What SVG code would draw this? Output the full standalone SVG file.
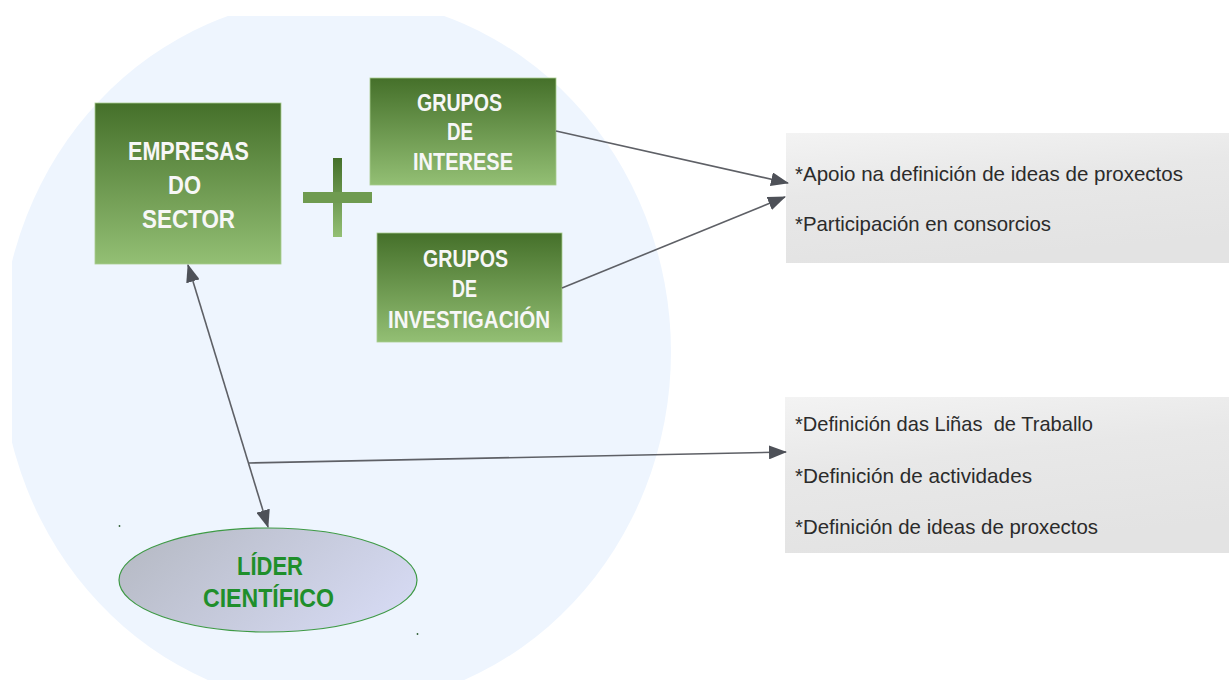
<svg xmlns="http://www.w3.org/2000/svg" width="1229" height="680" viewBox="0 0 1229 680">
<style>
.gt{font-family:"Liberation Sans",Arial,sans-serif;font-weight:bold;fill:#F7F7F7}
.lt{font-family:"Liberation Sans",Arial,sans-serif;font-weight:bold;fill:#1F8F2B;font-size:25px}
.bt{font-family:"Liberation Sans",Arial,sans-serif;fill:#2B2B2B;font-size:21px;white-space:pre}
.con{stroke:#5E6066;stroke-width:1.6;fill:none}
</style>
<defs>
<linearGradient id="grn" x1="0" y1="0" x2="0" y2="1">
<stop offset="0" stop-color="#45702A"/>
<stop offset="1" stop-color="#93BF74"/>
</linearGradient>
<linearGradient id="gry" x1="0" y1="0" x2="0.3" y2="1">
<stop offset="0" stop-color="#F3F3F3"/>
<stop offset="0.45" stop-color="#E8E8E8"/>
<stop offset="1" stop-color="#E3E3E3"/>
</linearGradient>
<linearGradient id="ell" x1="0" y1="0.3" x2="1" y2="0.7">
<stop offset="0" stop-color="#B7BBC6"/>
<stop offset="1" stop-color="#D6DAF3"/>
</linearGradient>
<clipPath id="clip"><rect x="12" y="16" width="1217" height="664"/></clipPath>
<marker id="ah" viewBox="0 0 18 14" refX="17" refY="7" markerWidth="18" markerHeight="14" markerUnits="userSpaceOnUse" orient="auto-start-reverse">
<path d="M0,0 L18,7 L0,14 z" fill="#4E5158"/>
</marker>
</defs>
<rect width="1229" height="680" fill="#FFFFFF"/>
<ellipse cx="336" cy="352" rx="335" ry="355" fill="#EEF5FE" clip-path="url(#clip)"/>

<g id="box-info-1">
<rect x="786" y="133" width="443" height="130" fill="url(#gry)"/>
<text class="bt" x="795" y="181" textLength="388" lengthAdjust="spacingAndGlyphs">*Apoio na definición de ideas de proxectos</text>
<text class="bt" x="795" y="231" textLength="256" lengthAdjust="spacingAndGlyphs">*Participación en consorcios</text>
</g>
<g id="box-info-2">
<rect x="785" y="397" width="444" height="156" fill="url(#gry)"/>
<text class="bt" x="795" y="431" textLength="298" lengthAdjust="spacingAndGlyphs">*Definición das Liñas  de Traballo</text>
<text class="bt" x="795" y="483" textLength="237" lengthAdjust="spacingAndGlyphs">*Definición de actividades</text>
<text class="bt" x="795" y="534" textLength="303" lengthAdjust="spacingAndGlyphs">*Definición de ideas de proxectos</text>
</g>

<g id="empresas">
<rect x="95" y="103" width="186" height="161" fill="url(#grn)" stroke="#A9CC90" stroke-width="0.8"/>
<text class="gt" font-size="26" x="128" y="160" textLength="121" lengthAdjust="spacingAndGlyphs">EMPRESAS</text>
<text class="gt" font-size="26" x="168" y="194" textLength="33" lengthAdjust="spacingAndGlyphs">DO</text>
<text class="gt" font-size="26" x="142" y="228" textLength="93" lengthAdjust="spacingAndGlyphs">SECTOR</text>
</g>

<g id="plus">
<rect x="333" y="158" width="9" height="79" fill="url(#grn)"/>
<rect x="303" y="192" width="69" height="11" fill="#6F9B50"/>
</g>

<g id="grupos-interese">
<rect x="370" y="78" width="186" height="107" fill="url(#grn)" stroke="#A9CC90" stroke-width="0.8"/>
<text class="gt" font-size="23" x="417" y="111" textLength="85" lengthAdjust="spacingAndGlyphs">GRUPOS</text>
<text class="gt" font-size="23" x="447" y="140" textLength="26" lengthAdjust="spacingAndGlyphs">DE</text>
<text class="gt" font-size="23" x="413" y="170" textLength="100" lengthAdjust="spacingAndGlyphs">INTERESE</text>
</g>

<g id="grupos-investigacion">
<rect x="377" y="233" width="185" height="109" fill="url(#grn)" stroke="#A9CC90" stroke-width="0.8"/>
<text class="gt" font-size="23" x="423" y="267" textLength="85" lengthAdjust="spacingAndGlyphs">GRUPOS</text>
<text class="gt" font-size="23" x="452" y="297" textLength="25" lengthAdjust="spacingAndGlyphs">DE</text>
<text class="gt" font-size="23" x="388" y="328" textLength="162" lengthAdjust="spacingAndGlyphs">INVESTIGACIÓN</text>
</g>

<g id="lider">
<ellipse cx="268" cy="580" rx="149" ry="52" fill="url(#ell)" stroke="#3E9A45" stroke-width="1.2"/>
<text class="lt" x="237" y="575" textLength="66" lengthAdjust="spacingAndGlyphs">LÍDER</text>
<text class="lt" x="203" y="607" textLength="131" lengthAdjust="spacingAndGlyphs">CIENTÍFICO</text>
</g>

<g id="dots">
<circle cx="119.5" cy="526" r="0.9" fill="#2F5F35"/>
<circle cx="417.5" cy="634" r="0.9" fill="#2F5F35"/>
</g>

<g id="connectors">
<line class="con" x1="556" y1="131" x2="788" y2="183" marker-end="url(#ah)"/>
<line class="con" x1="562" y1="288" x2="785" y2="197" marker-end="url(#ah)"/>
<line class="con" x1="188" y1="265" x2="268" y2="527" marker-start="url(#ah)" marker-end="url(#ah)"/>
<line class="con" x1="249" y1="463" x2="786" y2="452" marker-end="url(#ah)"/>
</g>
</svg>
